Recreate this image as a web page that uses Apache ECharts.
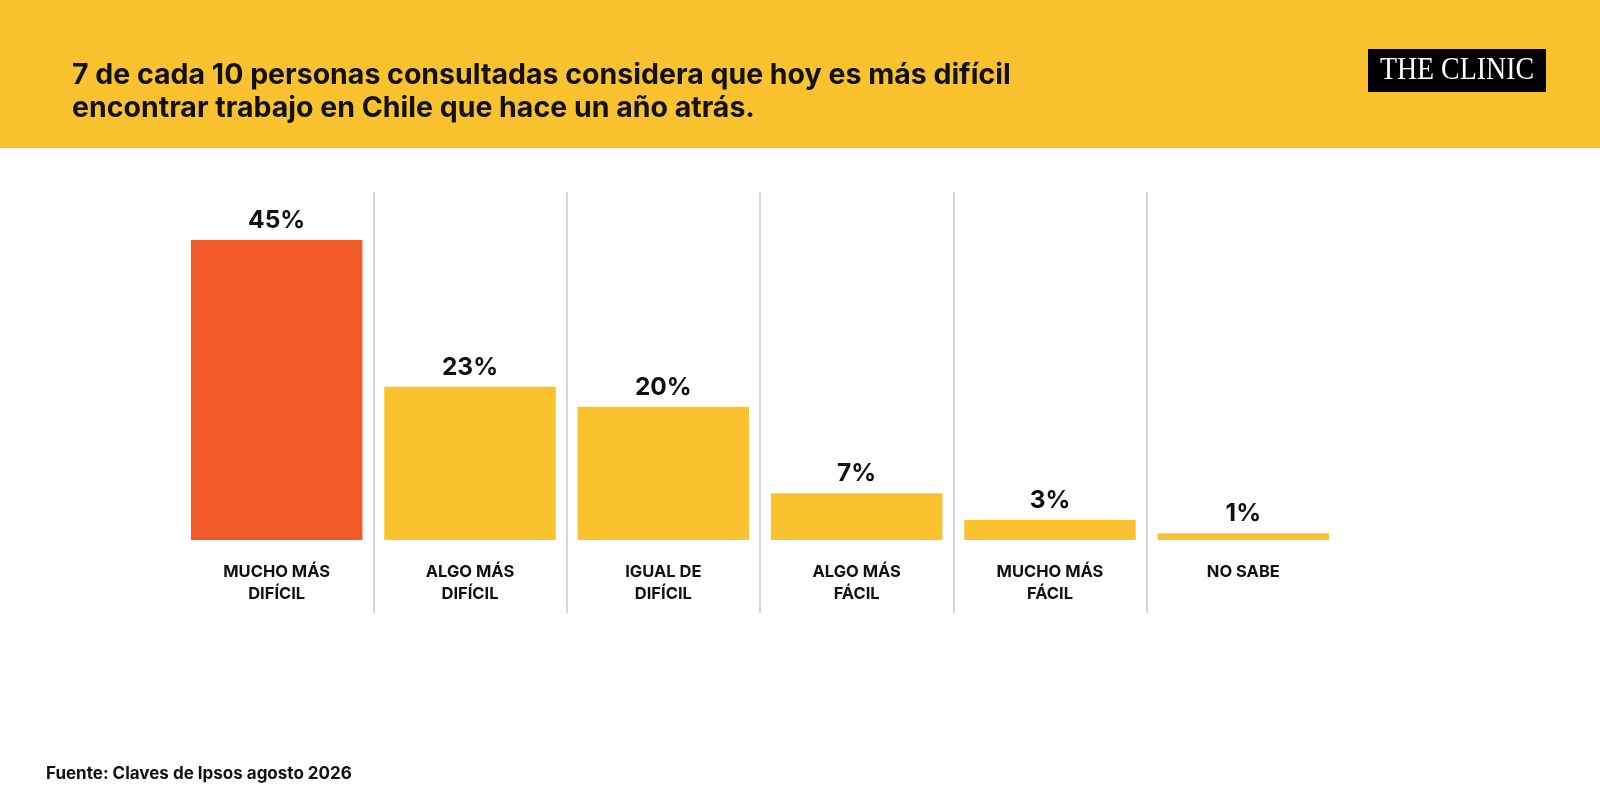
<!DOCTYPE html>
<html>
<head>
<meta charset="utf-8">
<script src="https://cdn.jsdelivr.net/npm/echarts@6/dist/echarts.min.js"></script>
<style>
html,body{margin:0;padding:0;background:#fff;}
#chart{width:1600px;height:805px;}
</style>
</head>
<body>
<div id="chart"></div>
<script>
const categories = ['MUCHO MÁS\nDIFÍCIL', 'ALGO MÁS\nDIFÍCIL', 'IGUAL DE\nDIFÍCIL', 'ALGO MÁS\nFÁCIL', 'MUCHO MÁS\nFÁCIL', 'NO SABE'];
const values = [45, 23, 20, 7, 3, 1];
const highlightIndex = 0;
const titleText = '7 de cada 10 personas consultadas considera que hoy es más difícil\nencontrar trabajo en Chile que hace un año atrás.';
const sourceText = 'Fuente: Claves de Ipsos agosto 2026';
const logoText = 'THE CLINIC';

const YELLOW = '#F9C22E';
const ORANGE = '#F15A29';
const FONT = 'Inter, Roboto, sans-serif';

const chart = echarts.init(document.getElementById('chart'));
chart.setOption({
  backgroundColor: '#ffffff',
  animation: false,
  title: {
    text: titleText,
    left: 67,
    top: 54,
    textStyle: { fontFamily: FONT, fontSize: 28.5, fontWeight: 700, color: '#111', lineHeight: 33 }
  },
  graphic: [
    { type: 'rect', z: -10, shape: { x: 0, y: 0, width: 1600, height: 148 }, style: { fill: YELLOW } },
    { type: 'rect', z: 10, shape: { x: 1368, y: 49, width: 178, height: 43 }, style: { fill: '#000' } },
    { type: 'text', z: 11, x: 1457, y: 71, scaleX: 0.9, style: { text: logoText, fill: '#fff', font: '31px "Liberation Serif", "DejaVu Serif", serif', textAlign: 'center', textVerticalAlign: 'middle' } },
    { type: 'text', z: 11, x: 46, y: 774, style: { text: sourceText, fill: '#111', font: '700 17px ' + FONT, textVerticalAlign: 'middle' } }
  ],
  grid: [
    { left: 180, right: 260, top: 206.7, bottom: 265 },
    { left: 180, right: 260, top: 192, bottom: 192 }
  ],
  xAxis: [
    {
      type: 'category', gridIndex: 0, data: categories,
      axisLine: { show: false }, axisTick: { show: false }, splitLine: { show: false },
      axisLabel: { fontFamily: FONT, fontSize: 16.5, fontWeight: 700, color: '#111', lineHeight: 22, margin: 21, verticalAlign: 'top', interval: 0 }
    },
    {
      type: 'category', gridIndex: 1, data: categories,
      axisLine: { show: false }, axisTick: { show: false }, axisLabel: { show: false },
      splitLine: { show: true, showMinLine: false, showMaxLine: false, lineStyle: { color: '#c9c9c9', width: 1.5 } }
    }
  ],
  yAxis: [
    { type: 'value', gridIndex: 0, min: 0, max: 50, show: false },
    { type: 'value', gridIndex: 1, min: 0, max: 1, show: false }
  ],
  series: [{
    type: 'bar',
    xAxisIndex: 0, yAxisIndex: 0,
    barWidth: '88.7%',
    data: values.map((v, i) => ({ value: v, itemStyle: { color: i === highlightIndex ? ORANGE : YELLOW } })),
    label: {
      show: true, position: 'top', distance: 7,
      formatter: p => p.value + '%',
      fontFamily: FONT, fontSize: 24.5, fontWeight: 700, color: '#111'
    }
  }]
});
</script>
</body>
</html>
